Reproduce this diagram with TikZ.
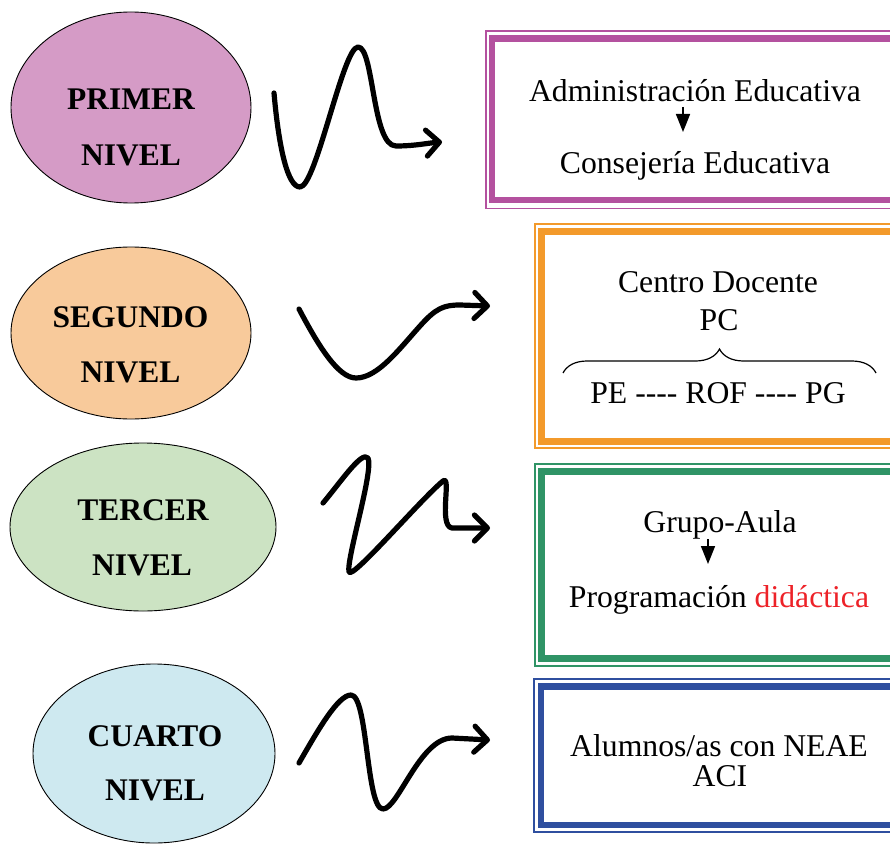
\documentclass[tikz,border=0pt]{standalone}
\usepackage{fontspec}
\setmainfont{Liberation Serif}
\usetikzlibrary{shapes.geometric,arrows.meta,decorations.pathreplacing}
\definecolor{pinkfill}{HTML}{D59BC6}
\definecolor{orangefill}{HTML}{F8CA9B}
\definecolor{greenfill}{HTML}{CCE3C3}
\definecolor{bluefill}{HTML}{CEE9F0}
\definecolor{purpleframe}{HTML}{B4519F}
\definecolor{orangeframe}{HTML}{F39A2B}
\definecolor{greenframe}{HTML}{2F9466}
\definecolor{blueframe}{HTML}{2F4F9F}
\definecolor{redtext}{HTML}{ED2228}
\begin{document}
\begin{tikzpicture}[x=1pt,y=-1pt,
  lvl/.style={ellipse, draw=black, line width=0.9pt, inner sep=0pt},
  lvltext/.style={anchor=base, inner sep=0pt, font=\fontsize{31.5}{36}\selectfont\bfseries},
  boxtext/.style={anchor=base, inner sep=0pt, font=\fontsize{31.7}{36}\selectfont},
  wave/.style={line width=5.2pt, line cap=round, line join=round, -{Straight Barb[length=13pt,width=26pt,round]}},
  thinframe/.style={line width=1.3pt},
  thickframe/.style={line width=6.5pt},
  smallarrow/.style={line width=1.6pt, -{Triangle[length=18pt,width=14pt]}}
]
\useasboundingbox (0,0) rectangle (890,845);
\clip (0,0) rectangle (890,845);

% ---------- ellipses ----------
\node[lvl, fill=pinkfill, minimum width=240pt, minimum height=191pt] (e1) at (131,107.5) {};
\node[lvl, fill=orangefill, minimum width=240pt, minimum height=172pt] (e2) at (131,333) {};
\node[lvl, fill=greenfill, minimum width=266pt, minimum height=168pt] (e3) at (143,527) {};
\node[lvl, fill=bluefill, minimum width=242pt, minimum height=179pt] (e4) at (154,753.5) {};

\node[lvltext] (t1a) at (131,110) {PRIMER};
\node[lvltext] (t1b) at (131,165) {NIVEL};
\node[lvltext] (t2a) at (130.5,327) {SEGUNDO};
\node[lvltext] (t2b) at (130.5,382) {NIVEL};
\node[lvltext] (t3a) at (143,520) {TERCER};
\node[lvltext] (t3b) at (142,575) {NIVEL};
\node[lvltext] (t4a) at (155,746) {CUARTO};
\node[lvltext] (t4b) at (155,800) {NIVEL};

% ---------- frames ----------
\draw[thinframe, purpleframe] (486,31) rectangle (900,208.5);
\draw[thickframe, purpleframe] (492,38.5) rectangle (900,200);
\draw[thinframe, orangeframe] (535,224) rectangle (900,448);
\draw[thickframe, orangeframe] (541.5,231.5) rectangle (900,441.5);
\draw[thinframe, greenframe] (535,464) rectangle (900,666);
\draw[thickframe, greenframe] (541.5,471.5) rectangle (900,658.5);
\draw[thinframe, blueframe] (534,679) rectangle (900,832);
\draw[thickframe, blueframe] (541,686.5) rectangle (900,825);

% ---------- box texts ----------
\node[boxtext] (b1a) at (695,102) {Administración Educativa};
\node[boxtext] (b1b) at (695,173) {Consejería Educativa};
\coordinate (b1s) at (683,107);
\coordinate (b1e) at (683,132);
\draw[smallarrow] (b1s) -- (b1e);

\node[boxtext] (b2a) at (718,292) {Centro Docente};
\node[boxtext] (b2b) at (719,330) {PC};
\coordinate (br1) at (563,373);
\coordinate (br2) at (876,373);
\draw[line width=1.2pt, decorate, decoration={brace, amplitude=24pt}] (br1) -- (br2);
\node[boxtext] (b2c) at (718,403) {PE -{}-{}-{}- ROF -{}-{}-{}- PG};

\node[boxtext] (b3a) at (720,532) {Grupo-Aula};
\coordinate (b3s) at (708,539);
\coordinate (b3e) at (708,564);
\draw[smallarrow] (b3s) -- (b3e);
\node[boxtext] (b3b) at (719,607) {Programación \textcolor{redtext}{didáctica}};

\node[boxtext] (b4a) at (719,756) {Alumnos/as con NEAE};
\node[boxtext] (b4b) at (720,786) {ACI};

% ---------- wavy arrows ----------
\coordinate (w1s) at (274,93);
\coordinate (w1e) at (442,142);
\draw[wave] (w1s) .. controls (279,150) and (288,187) .. (300,187)
  .. controls (316,187) and (343,47) .. (358,47)
  .. controls (374,47) and (372,146) .. (396,146)
  .. controls (415,146) and (428,143) .. (w1e);

\coordinate (w2s) at (299,309);
\coordinate (w2e) at (490,306);
\draw[wave] (w2s) .. controls (318,345) and (338,378) .. (356,378)
  .. controls (378,378) and (400,348) .. (420,326)
  .. controls (436,308) and (444,305) .. (460,305)
  -- (w2e);

\coordinate (w3s) at (323,503);
\coordinate (w3e) at (490,528);
\draw[wave] (w3s) .. controls (340,483) and (362,450) .. (368,458)
  .. controls (374,470) and (346,560) .. (349,572)
  .. controls (352,580) and (420,500) .. (443,481)
  .. controls (452,474) and (438,526) .. (452,528)
  -- (w3e);

\coordinate (w4s) at (299,763);
\coordinate (w4e) at (490,740);
\draw[wave] (w4s) .. controls (318,730) and (338,695) .. (351,695)
  .. controls (368,695) and (366,809) .. (383,809)
  .. controls (398,809) and (420,738) .. (452,738)
  -- (w4e);
\end{tikzpicture}
\end{document}
